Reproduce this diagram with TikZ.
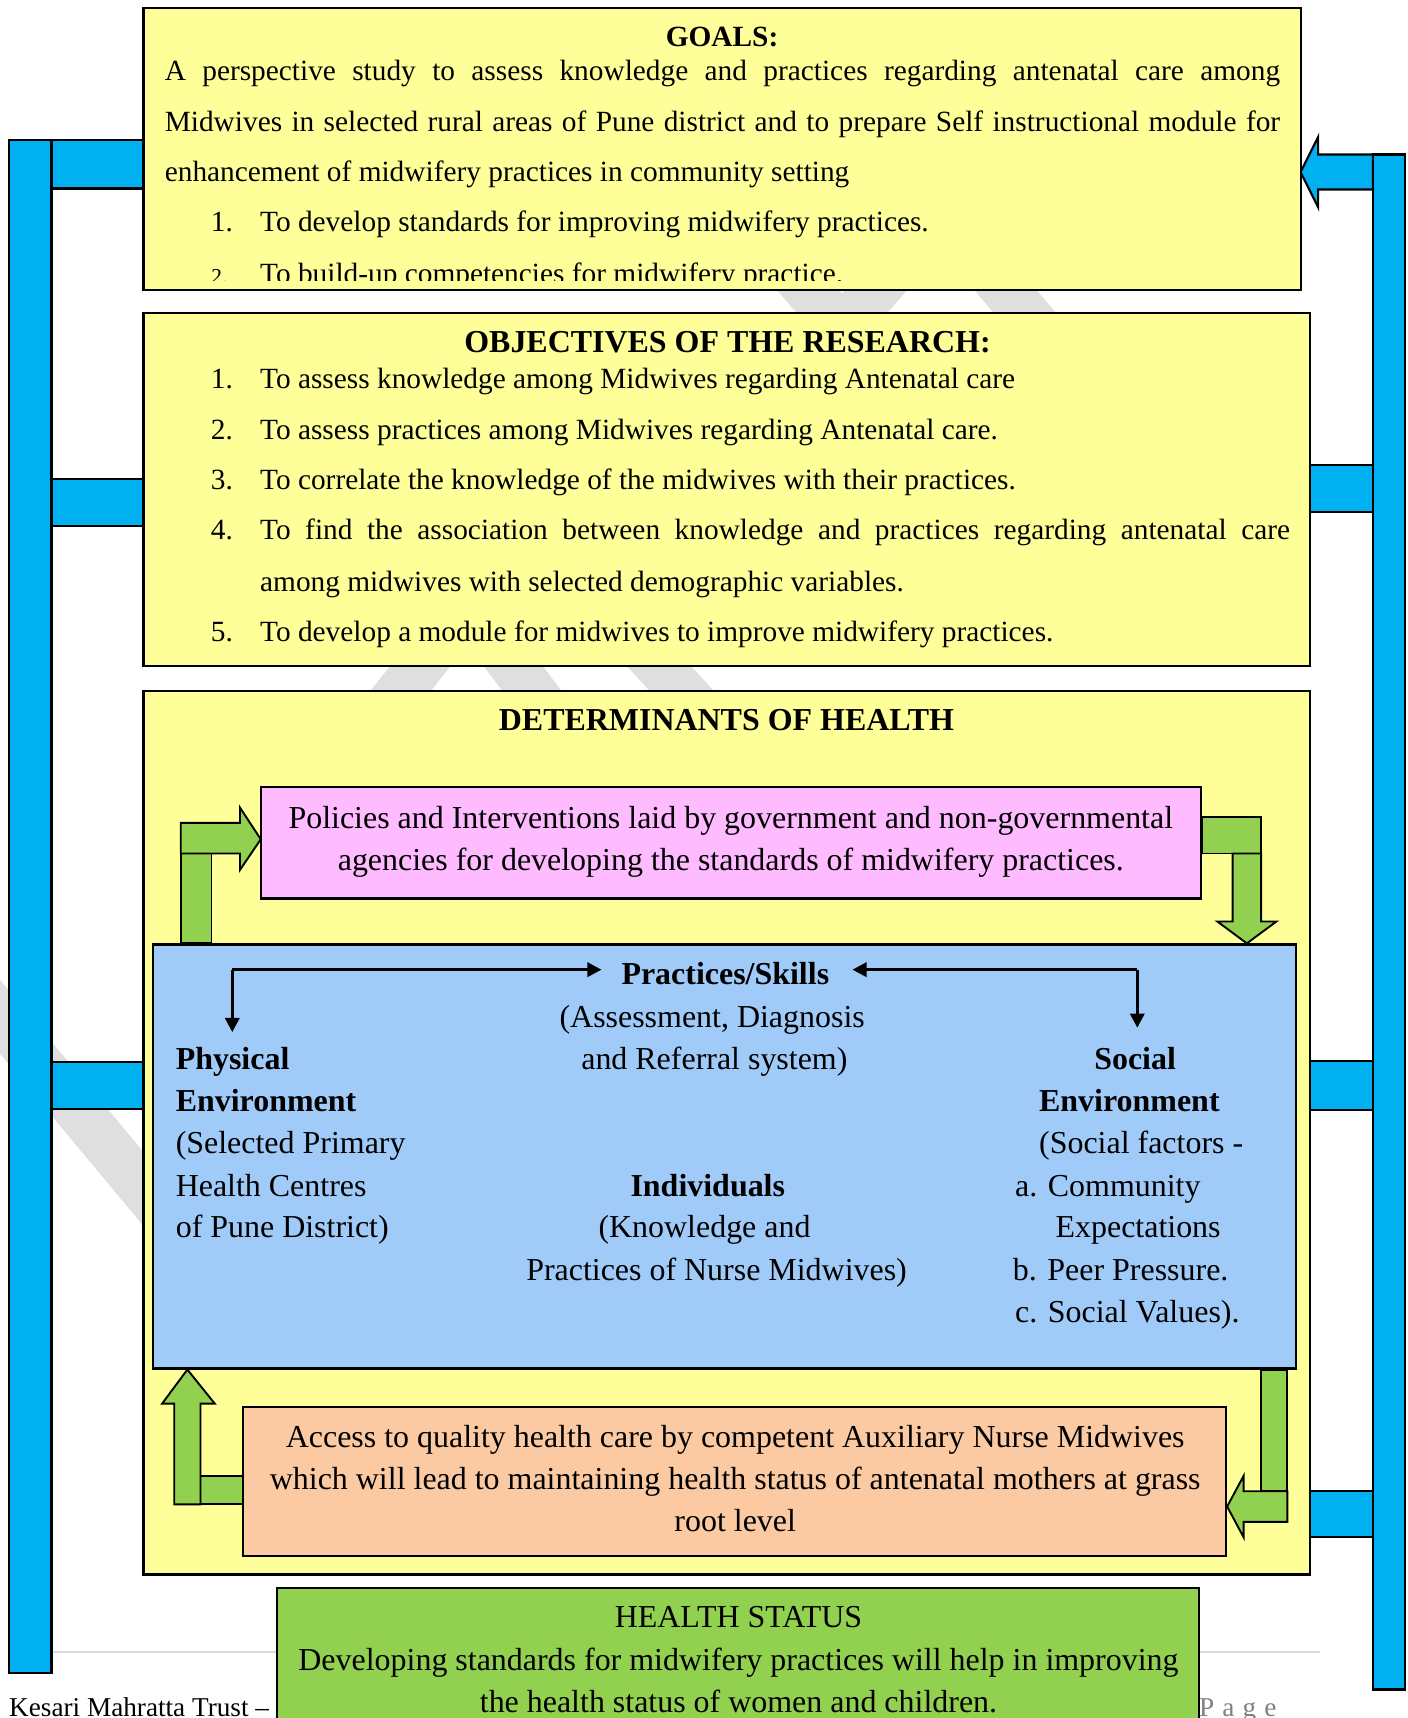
\documentclass[tikz,border=0pt]{standalone}
\usepackage{fontspec}
\setmainfont{Liberation Serif}
\usetikzlibrary{arrows.meta,fit,positioning}

\definecolor{paleyellow}{HTML}{FFFF99}
\definecolor{barblue}{HTML}{00B0F0}
\definecolor{policypink}{HTML}{FFBBFF}
\definecolor{skyblue}{HTML}{A0CBF9}
\definecolor{peach}{HTML}{FBCAA2}
\definecolor{leafgreen}{HTML}{92D050}
\definecolor{markgray}{HTML}{DFDFDF}

\begin{document}
\begin{tikzpicture}[
        x=0.463pt, y=-0.463pt,
        panel/.style={draw=black, line width=0.9pt, inner sep=0pt},
        bar/.style={draw=black, line width=0.9pt, fill=barblue},
        greenarrow/.style={draw=black, line width=0.8pt, fill=leafgreen},
        bodytext/.style={inner sep=0pt, anchor=mid, yshift=-2.2pt, font=\fontsize{12.4}{14}\selectfont},
        bigtext/.style={inner sep=0pt, anchor=mid, yshift=-2.2pt, font=\fontsize{13.5}{16}\selectfont},
        footer/.style={inner sep=0pt, anchor=mid west, yshift=-2pt, font=\fontsize{11.5}{13}\selectfont},
        link/.style={line width=1.3pt, -{Triangle[length=6pt, width=6pt]}},
        watermark/.style={draw=markgray, line width=20pt}]

    \clip (0,0) rectangle (1285,1568);
    \fill[white] (0,0) rectangle (1285,1568);

    \foreach \xa/\ya/\xb/\yb in {-40/880/170/1132, 725/250/772/305, 812/250/765/305,
            905/250/952/305, 398/590/350/650, 455/590/500/650, 585/590/640/650}
        \draw[watermark] (\xa,\ya) -- (\xb,\yb);

    \draw[draw=black!15, line width=0.8pt] (8,1508) -- (1205,1508);
    \node[footer] (trust) at (8,1557) {Kesari Mahratta Trust – (};
    \node[footer, text=black!50] (pageword) at (1094,1557) {\addfontfeature{LetterSpace=30}Page};

    \draw[bar] (8,128) rectangle (47,1527);
    \foreach \ya/\yb in {128/172, 437/480, 969/1012}
        \draw[bar] (47,\ya) rectangle (131,\yb);
    \draw[bar] (1253,141) rectangle (1282,1542);
    \foreach \ya/\yb in {424/467, 968/1013, 1361/1403}
        \draw[bar] (1196,\ya) rectangle (1253,\yb);
    \draw[bar] (1253,141) -- (1203,141) -- (1203,125) -- (1187,157)
        -- (1203,189) -- (1203,173) -- (1253,173) -- cycle;

    \node[panel, fill=paleyellow, fit={(131,7) (1187,265)}] (goals) {};
    \node[panel, fill=paleyellow, fit={(131,286) (1196,608)}] (objectives) {};
    \node[panel, fill=paleyellow, fit={(131,631) (1196,1437)}] (determinants) {};
    \node[panel, fill=policypink, fit={(238,718) (1096,820)}] (policies) {};
    \node[panel, fill=skyblue, fit={(140,862) (1183,1249)}] (individuals) {};
    \node[panel, fill=peach, fit={(222,1284) (1119,1420)}] (access) {};
    \node[panel, fill=leafgreen, fit={(253,1449) (1094,1600)}] (status) {};

    \node[bodytext] (goalshead) at (659,33) {\bfseries GOALS:};
    \node[bodytext, anchor=mid west] (goalsa) at (150,64)
        {\makebox[471.3pt][s]{A perspective study to assess knowledge and practices regarding antenatal care among}};
    \node[bodytext, anchor=mid west] (goalsb) at (150,110)
        {\makebox[471.3pt][s]{Midwives in selected rural areas of Pune district and to prepare Self instructional module for}};
    \node[bodytext, anchor=mid west] (goalsc) at (150,156) {enhancement of midwifery practices in community setting};
    \node[bodytext, anchor=mid east] (goalnum1) at (213,202) {1.};
    \node[bodytext, anchor=mid west] (goalitem1) at (237,202) {To develop standards for improving midwifery practices.};
    \begin{scope}
        \clip (131,7) rectangle (1187,256);
        \node[inner sep=0pt, anchor=base east, font=\fontsize{9}{10}\selectfont] (goalnum2) at (208,259) {2.};
        \node[bodytext, anchor=base west] (goalitem2) at (237,254) {To build-up competencies for midwifery practice.};
    \end{scope}

    \node[bigtext] (objhead) at (664,312) {\bfseries OBJECTIVES OF THE RESEARCH:};
    \foreach \n/\yy/\txt in {1/345/{To assess knowledge among Midwives regarding Antenatal care},
            2/391/{To assess practices among Midwives regarding Antenatal care.},
            3/437/{To correlate the knowledge of the midwives with their practices.},
            5/576/{To develop a module for midwives to improve midwifery practices.}} {
        \node[bodytext, anchor=mid east] (objnum\n) at (213,\yy) {\n.};
        \node[bodytext, anchor=mid west] (obj\n) at (237,\yy) {\txt};
    }
    \node[bodytext, anchor=mid east] (objnum4) at (213,483) {4.};
    \node[bodytext, anchor=mid west] (obj4) at (237,483)
        {\makebox[435.2pt][s]{To find the association between knowledge and practices regarding antenatal care}};
    \node[bodytext, anchor=mid west] (obj4b) at (237,530) {among midwives with selected demographic variables.};

    \node[bigtext] (dethead) at (663,657) {\bfseries DETERMINANTS OF HEALTH};

    \node[bigtext] (policya) at (667,746) {Policies and Interventions laid by government and non-governmental};
    \node[bigtext] (policyb) at (667,785) {agencies for developing the standards of midwifery practices.};

    \node[bigtext] (skills) at (662,889) {\bfseries Practices/Skills};
    \node[bigtext] (skillsa) at (650,928) {(Assessment, Diagnosis};
    \node[bigtext] (skillsb) at (652,966) {and Referral system)};

    \foreach \yy/\txt [count=\i] in {966/{\bfseries Physical}, 1005/{\bfseries Environment},
            1043/{(Selected Primary}, 1082/{Health Centres}, 1120/{of Pune District)}}
        \node[bigtext, anchor=mid west] (physical\i) at (160,\yy) {\txt};

    \node[bigtext] (person) at (646,1082) {\bfseries Individuals};
    \node[bigtext] (persona) at (643,1120) {(Knowledge and};
    \node[bigtext] (personb) at (654,1159) {Practices of Nurse Midwives)};

    \node[bigtext] (social) at (1036,966) {\bfseries Social};
    \foreach \xx/\yy/\txt [count=\i] in {948/1005/{\bfseries Environment}, 948/1043/{(Social factors -},
            926/1082/{a. Community}, 963/1120/{Expectations}, 924/1159/{b. Peer Pressure.},
            926/1197/{c. Social Values).}}
        \node[bigtext, anchor=mid west] (social\i) at (\xx,\yy) {\txt};

    \node[bigtext] (accessa) at (671,1311) {Access to quality health care by competent Auxiliary Nurse Midwives};
    \node[bigtext] (accessb) at (671,1350) {which will lead to maintaining health status of antenatal mothers at grass};
    \node[bigtext] (accessc) at (671,1388) {root level};

    \node[bigtext] (statushead) at (674,1476) {HEALTH STATUS};
    \node[bigtext] (statusa) at (674,1515) {Developing standards for midwifery practices will help in improving};
    \node[bigtext] (statusb) at (674,1553) {the health status of women and children.};

    \draw[greenarrow] (165,779) rectangle (193,861);
    \draw[greenarrow] (165,751) -- (219,751) -- (219,737) -- (238,766) -- (219,794) -- (219,779) -- (165,779) -- cycle;
    \draw[greenarrow] (1097,746) rectangle (1151,779);
    \draw[greenarrow] (1125,779) -- (1151,779) -- (1151,841) -- (1165,841) -- (1138,861) -- (1111,841) -- (1125,841) -- cycle;
    \draw[greenarrow] (1151,1250) rectangle (1175,1361);
    \draw[greenarrow] (1175,1361) -- (1175,1389) -- (1135,1389) -- (1135,1403) -- (1120,1375) -- (1135,1347) -- (1135,1361) -- cycle;
    \draw[greenarrow] (183,1347) rectangle (222,1373);
    \draw[greenarrow] (159,1373) -- (183,1373) -- (183,1281) -- (196,1281) -- (171,1250) -- (148,1281) -- (159,1281) -- cycle;

    \coordinate (physcorner) at (212,885);
    \coordinate (physdrop) at (212,942);
    \coordinate (skillsleft) at (549,885);
    \coordinate (skillsright) at (778,885);
    \coordinate (socialcorner) at (1038,885);
    \coordinate (socialdrop) at (1038,938);
    \draw[link] (physcorner) -- (skillsleft);
    \draw[link] (physcorner) -- (physdrop);
    \draw[link] (socialcorner) -- (skillsright);
    \draw[link] (socialcorner) -- (socialdrop);
\end{tikzpicture}
\end{document}
